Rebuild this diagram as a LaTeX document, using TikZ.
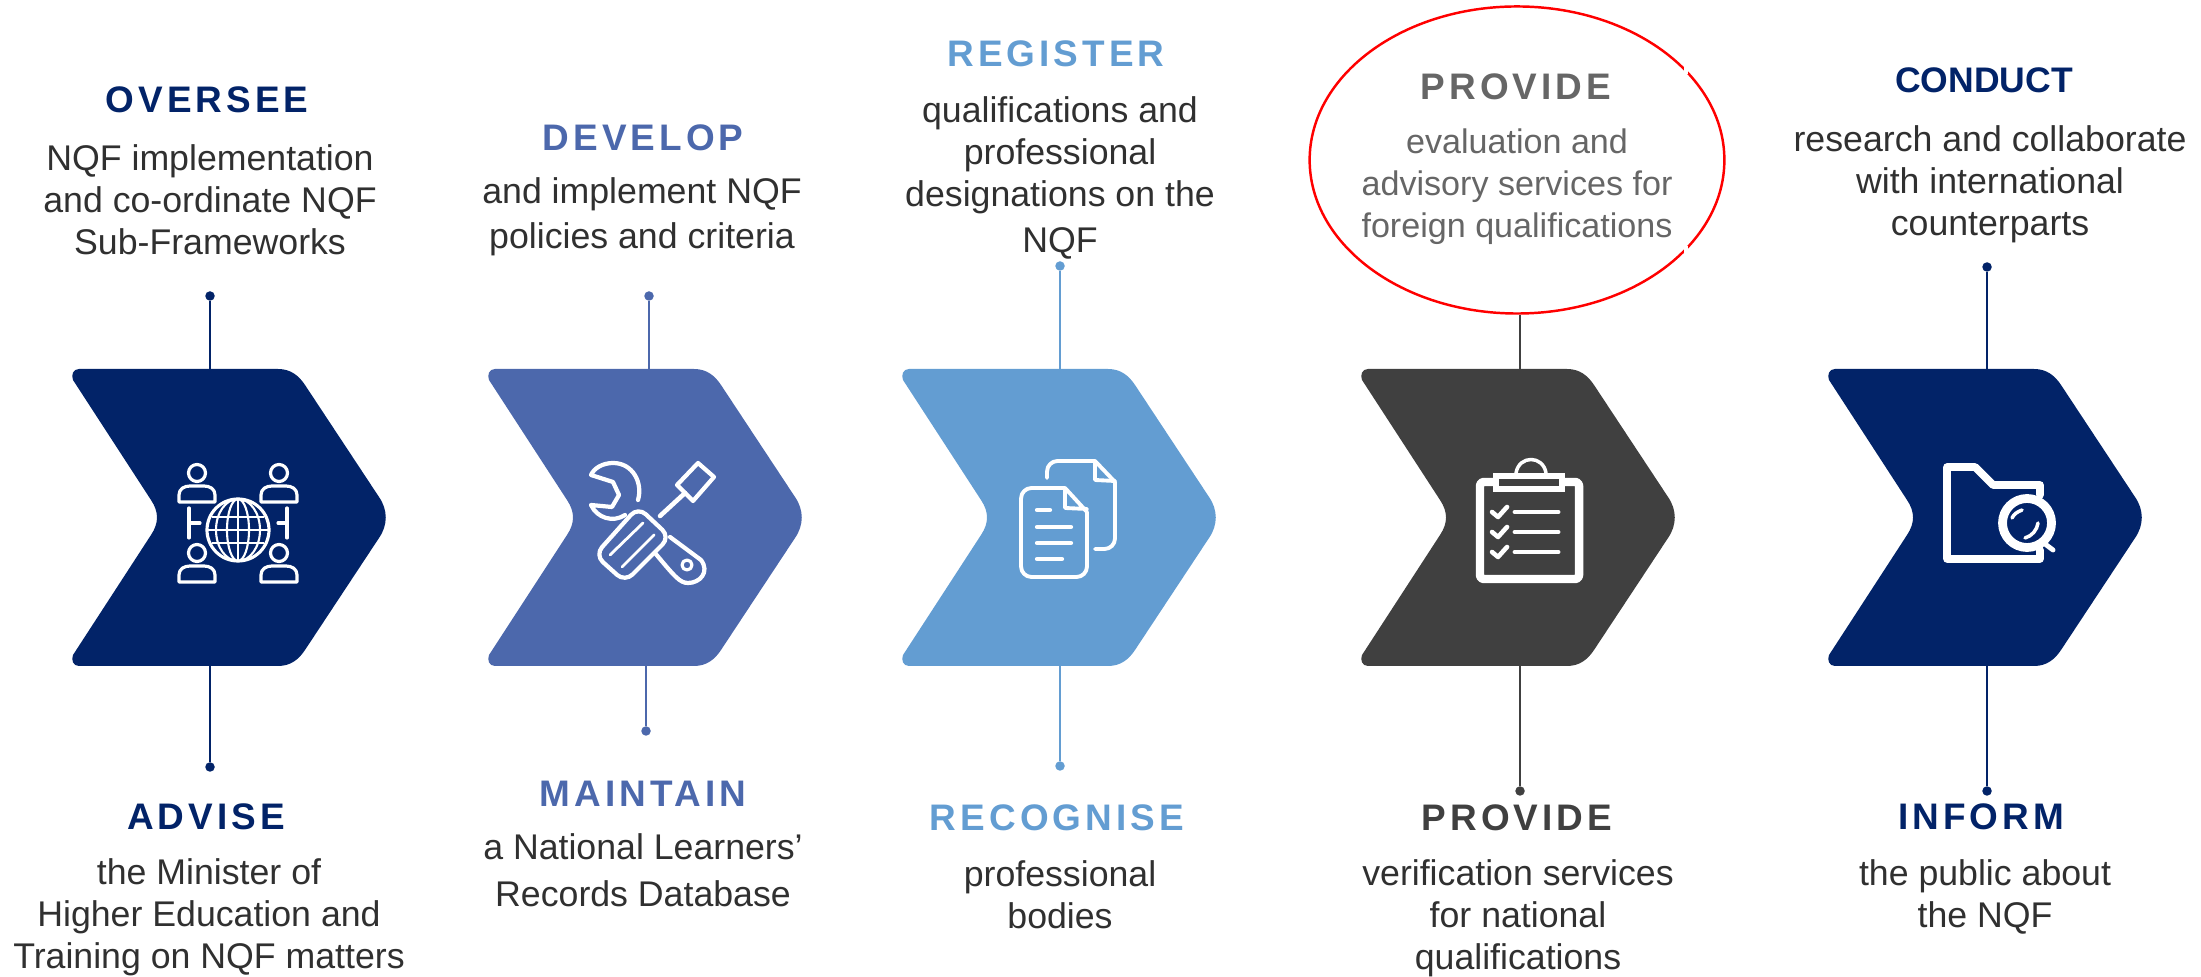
\documentclass[tikz,border=0pt]{standalone}
\usepackage{fontspec}
\usepackage{xcolor}
\usepackage{tikz}
\usetikzlibrary{shapes.geometric}
\setmainfont{Liberation Sans}
\newfontfamily\headfont[LetterSpace=11]{Liberation Sans Bold}
\newfontfamily\plainhead{Liberation Sans Bold}
\definecolor{navy}{HTML}{022368}
\definecolor{midblue}{HTML}{4C68AC}
\definecolor{skyblue}{HTML}{639DD2}
\definecolor{coal}{HTML}{404040}
\definecolor{bodygrey}{HTML}{303030}
\definecolor{blurgrey}{HTML}{666666}
\tikzset{
    chevron/.style={fill=#1,draw=none},
    endpoint/.style={circle,fill=#1,draw=none,inner sep=0pt,minimum size=2.7pt},
    link/.style={draw=#1,line width=.4pt},
    heading/.style={text=#1,font=\fontsize{10.5}{12}\headfont,inner sep=0pt,anchor=center},
    bodytext/.style={text=bodygrey,font=\fontsize{10.15}{11.9}\selectfont,align=center,inner sep=0pt,anchor=center},
    iconline/.style={draw=white,line width=.9pt,line join=round,line cap=round},
    iconthin/.style={draw=white,line width=.6pt},
    iconbar/.style={draw=white,line width=1.2pt,line cap=round},
}
\newcommand{\chevronpath}{(6,369) -- (205,369) .. controls (218,369) and (226,376) .. (232,385)
    -- (306,497) .. controls (315,510) and (315,525) .. (306,538)
    -- (232,650) .. controls (226,659) and (218,666) .. (205,666)
    -- (6,666) .. controls (0,666) and (-2,660) .. (0,655)
    -- (78,535) .. controls (86,523) and (86,512) .. (78,500)
    -- (0,380) .. controls (-2,375) and (0,369) .. (6,369) -- cycle}
\newcommand{\person}[2]{
    \draw[iconline] (#1,#2) circle[radius=8.5];
    \draw[iconline] (#1-18,#2+29) -- (#1-18,#2+22) .. controls (#1-18,#2+16) and (#1-13,#2+13) .. (#1-7,#2+13)
        -- (#1+7,#2+13) .. controls (#1+13,#2+13) and (#1+18,#2+16) .. (#1+18,#2+22) -- (#1+18,#2+29) -- cycle;
}
\begin{document}
\begin{tikzpicture}[x=0.01cm,y=-0.01cm]
    \useasboundingbox (0,0) rectangle (2201,977);

    % chevrons
    \path[chevron=navy,shift={(73,0)}] \chevronpath;
    \path[chevron=midblue,shift={(489,0)}] \chevronpath;
    \path[chevron=skyblue,shift={(903,0)}] \chevronpath;
    \path[chevron=coal,shift={(1362,0)}] \chevronpath;
    \path[chevron=navy,shift={(1829,0)}] \chevronpath;
    \coordinate (oversee top) at (210,369);
    \coordinate (oversee bottom) at (210,666);
    \coordinate (develop top) at (649,369);
    \coordinate (develop bottom) at (646,666);
    \coordinate (register top) at (1060,369);
    \coordinate (register bottom) at (1060,666);
    \coordinate (provide top) at (1520,369);
    \coordinate (provide bottom) at (1520,666);
    \coordinate (conduct top) at (1987,369);
    \coordinate (conduct bottom) at (1987,666);

    % first column
    \node[heading=navy] (oversee) at (207,100) {OVERSEE};
    \node[bodytext] (oversee text) at (210,200) {NQF implementation\\and co-ordinate NQF\\Sub-Frameworks};
    \node[endpoint=navy] (oversee dot) at (210,296) {};
    \draw[link=navy] (oversee dot) -- (oversee top);
    \node[endpoint=navy] (advise dot) at (210,767) {};
    \draw[link=navy] (oversee bottom) -- (advise dot);
    \node[heading=navy] (advise) at (206,817) {ADVISE};
    \node[bodytext] (advise text) at (209,917) {the Minister of\\Higher Education and\\Training on NQF matters};

    % second column
    \node[heading=midblue] (develop) at (643,138) {DEVELOP};
    \node[bodytext] (develop text) at (642,217) {and implement NQF\\[1pt]policies and criteria};
    \node[endpoint=midblue] (develop dot) at (649,296) {};
    \draw[link=midblue] (develop dot) -- (develop top);
    \node[endpoint=midblue] (maintain dot) at (646,731) {};
    \draw[link=midblue] (develop bottom) -- (maintain dot);
    \node[heading=midblue] (maintain) at (643,794) {MAINTAIN};
    \node[bodytext] (maintain text) at (643,870) {a National Learners'\\[1.6pt]Records Database};

    % third column
    \node[heading=skyblue] (register) at (1056,54) {REGISTER};
    \node[bodytext] (register text) at (1060,178) {qualifications and\\professional\\designations on the\\[1.2pt]NQF};
    \node[endpoint=skyblue] (register dot) at (1060,266) {};
    \draw[link=skyblue] (register dot) -- (register top);
    \node[endpoint=skyblue] (recognise dot) at (1060,766) {};
    \draw[link=skyblue] (register bottom) -- (recognise dot);
    \node[heading=skyblue] (recognise) at (1057,818) {RECOGNISE};
    \node[bodytext] (recognise text) at (1060,895) {professional\\bodies};

    % fourth column
    \node[draw=red,line width=.7pt,ellipse,minimum width=416*0.2835pt,minimum height=308*0.2835pt,inner sep=0pt] (circled) at (1517,160) {};
    \draw[white,line width=1.2pt] (1686,63) -- (1686,74) (1686,246) -- (1686,257);
    \node[heading=blurgrey] (evaluation) at (1516,87) {PROVIDE};
    \node[bodytext,text=blurgrey,font=\fontsize{9.7}{11.9}\selectfont] (evaluation text) at (1517,187) {evaluation and\\advisory services for\\foreign qualifications};
    \draw[link=coal] (circled.south -| provide top) -- (provide top);
    \node[endpoint=coal] (verify dot) at (1520,791) {};
    \draw[link=coal] (provide bottom) -- (verify dot);
    \node[heading=coal] (verify) at (1517,818) {PROVIDE};
    \node[bodytext] (verify text) at (1518,918) {verification services\\for national\\qualifications};

    % fifth column
    \node[text=navy,font=\fontsize{10.1}{12}\plainhead,inner sep=0pt] (conduct) at (1984,80) {CONDUCT};
    \node[bodytext] (conduct text) at (1990,184) {research and collaborate\\with international\\counterparts};
    \node[endpoint=navy] (conduct dot) at (1987,267) {};
    \draw[link=navy] (conduct dot) -- (conduct top);
    \node[endpoint=navy] (inform dot) at (1987,791) {};
    \draw[link=navy] (conduct bottom) -- (inform dot);
    \node[heading=navy] (inform) at (1981,817) {INFORM};
    \node[bodytext] (inform text) at (1985,897) {the public about\\the NQF};

    % people and globe
    \person{197}{473}
    \person{279}{473}
    \person{197}{553}
    \person{279}{553}
    \draw[iconline] (238,530) circle[radius=31];
    \draw[iconthin] (238,530) circle[x radius=11,y radius=31] (238,530) circle[x radius=22,y radius=31];
    \draw[iconthin] (238,499) -- (238,561) (212,517) -- (264,517) (207,530) -- (269,530) (212,543) -- (264,543);
    \draw[iconline] (189,508) -- (189,538) (189,523) -- (200,523) (287,508) -- (287,538) (287,523) -- (278,523);

    % wrench and screwdriver
    \draw[iconline,line width=1.2pt] (698,463) -- (714,477) -- (693,501) -- (677,485) -- cycle;
    \draw[iconline,line width=1.3pt] (685,493) -- (660,516);
    \draw[iconline,line width=1.2pt,rounded corners=3pt] (638,507) -- (670,537) -- (625,582) -- (595,555) -- cycle;
    \draw[iconthin,line width=.8pt,line cap=round] (610,555) -- (643,523) (622,567) -- (654,535);
    \draw[iconline,line width=1.2pt] (638,500) .. controls (643,483) and (633,463) .. (613,463)
        .. controls (603,463) and (594,468) .. (591,475) -- (613,482) -- (619,495) -- (612,507) -- (591,505)
        .. controls (597,518) and (613,523) .. (625,515);
    \draw[iconline,line width=1.2pt] (670,537) -- (701,560) .. controls (710,572) and (700,583) .. (688,583)
        .. controls (680,583) and (675,577) .. (655,553);
    \draw[iconline] (687,565) circle[radius=5];

    % documents
    \draw[iconline,line width=1.1pt,rounded corners=3pt] (1065,488) -- (1021,488) -- (1021,577) -- (1087,577) -- (1087,512);
    \draw[iconline,line width=1.1pt] (1087,512) -- (1065,488) -- (1065,508) -- (1087,509);
    \draw[iconline,line width=1.1pt,rounded corners=3pt] (1047,478) -- (1047,461) -- (1095,461);
    \draw[iconline,line width=1.1pt] (1095,461) -- (1115,482);
    \draw[iconline,line width=1.1pt,rounded corners=3pt] (1115,482) -- (1115,549) -- (1095,549);
    \draw[iconline,line width=1.1pt] (1095,461) -- (1095,480) -- (1115,481);
    \draw[iconbar] (1037,510) -- (1050,510) (1037,527) -- (1071,527) (1037,543) -- (1071,543) (1037,559) -- (1062,559);

    % clipboard
    \draw[iconline,line width=2.4pt,rounded corners=1pt] (1480,482) rectangle (1579,579);
    \draw[iconline,line width=1pt] (1516,473) .. controls (1519,455) and (1543,455) .. (1546,473);
    \draw[fill=coal,draw=white,line width=1.5pt] (1496,476) rectangle (1562,489);
    \draw[iconline,line width=1.3pt] (1492,512) -- (1498,517) -- (1507,507) (1492,532) -- (1498,537) -- (1507,527) (1492,552) -- (1498,557) -- (1507,547);
    \draw[iconbar,line width=1.4pt] (1515,512) -- (1558,512) (1515,532) -- (1558,532) (1515,552) -- (1558,552);

    % folder and lens
    \draw[iconline,line width=2.2pt] (2040,495) -- (2040,485) -- (1993,485) -- (1975,467) -- (1947,467) -- (1947,559) -- (2040,559) -- (2040,550);
    \draw[iconline,line width=2.5pt] (2027,523) circle[radius=24.5];
    \draw[iconline,line width=1pt] (2012,518) .. controls (2014,514) and (2017,512) .. (2022,510) (2025,538) .. controls (2032,536) and (2037,530) .. (2038,523);
    \draw[iconline,line width=1.4pt] (2045,544) -- (2053,550);
\end{tikzpicture}
\end{document}
